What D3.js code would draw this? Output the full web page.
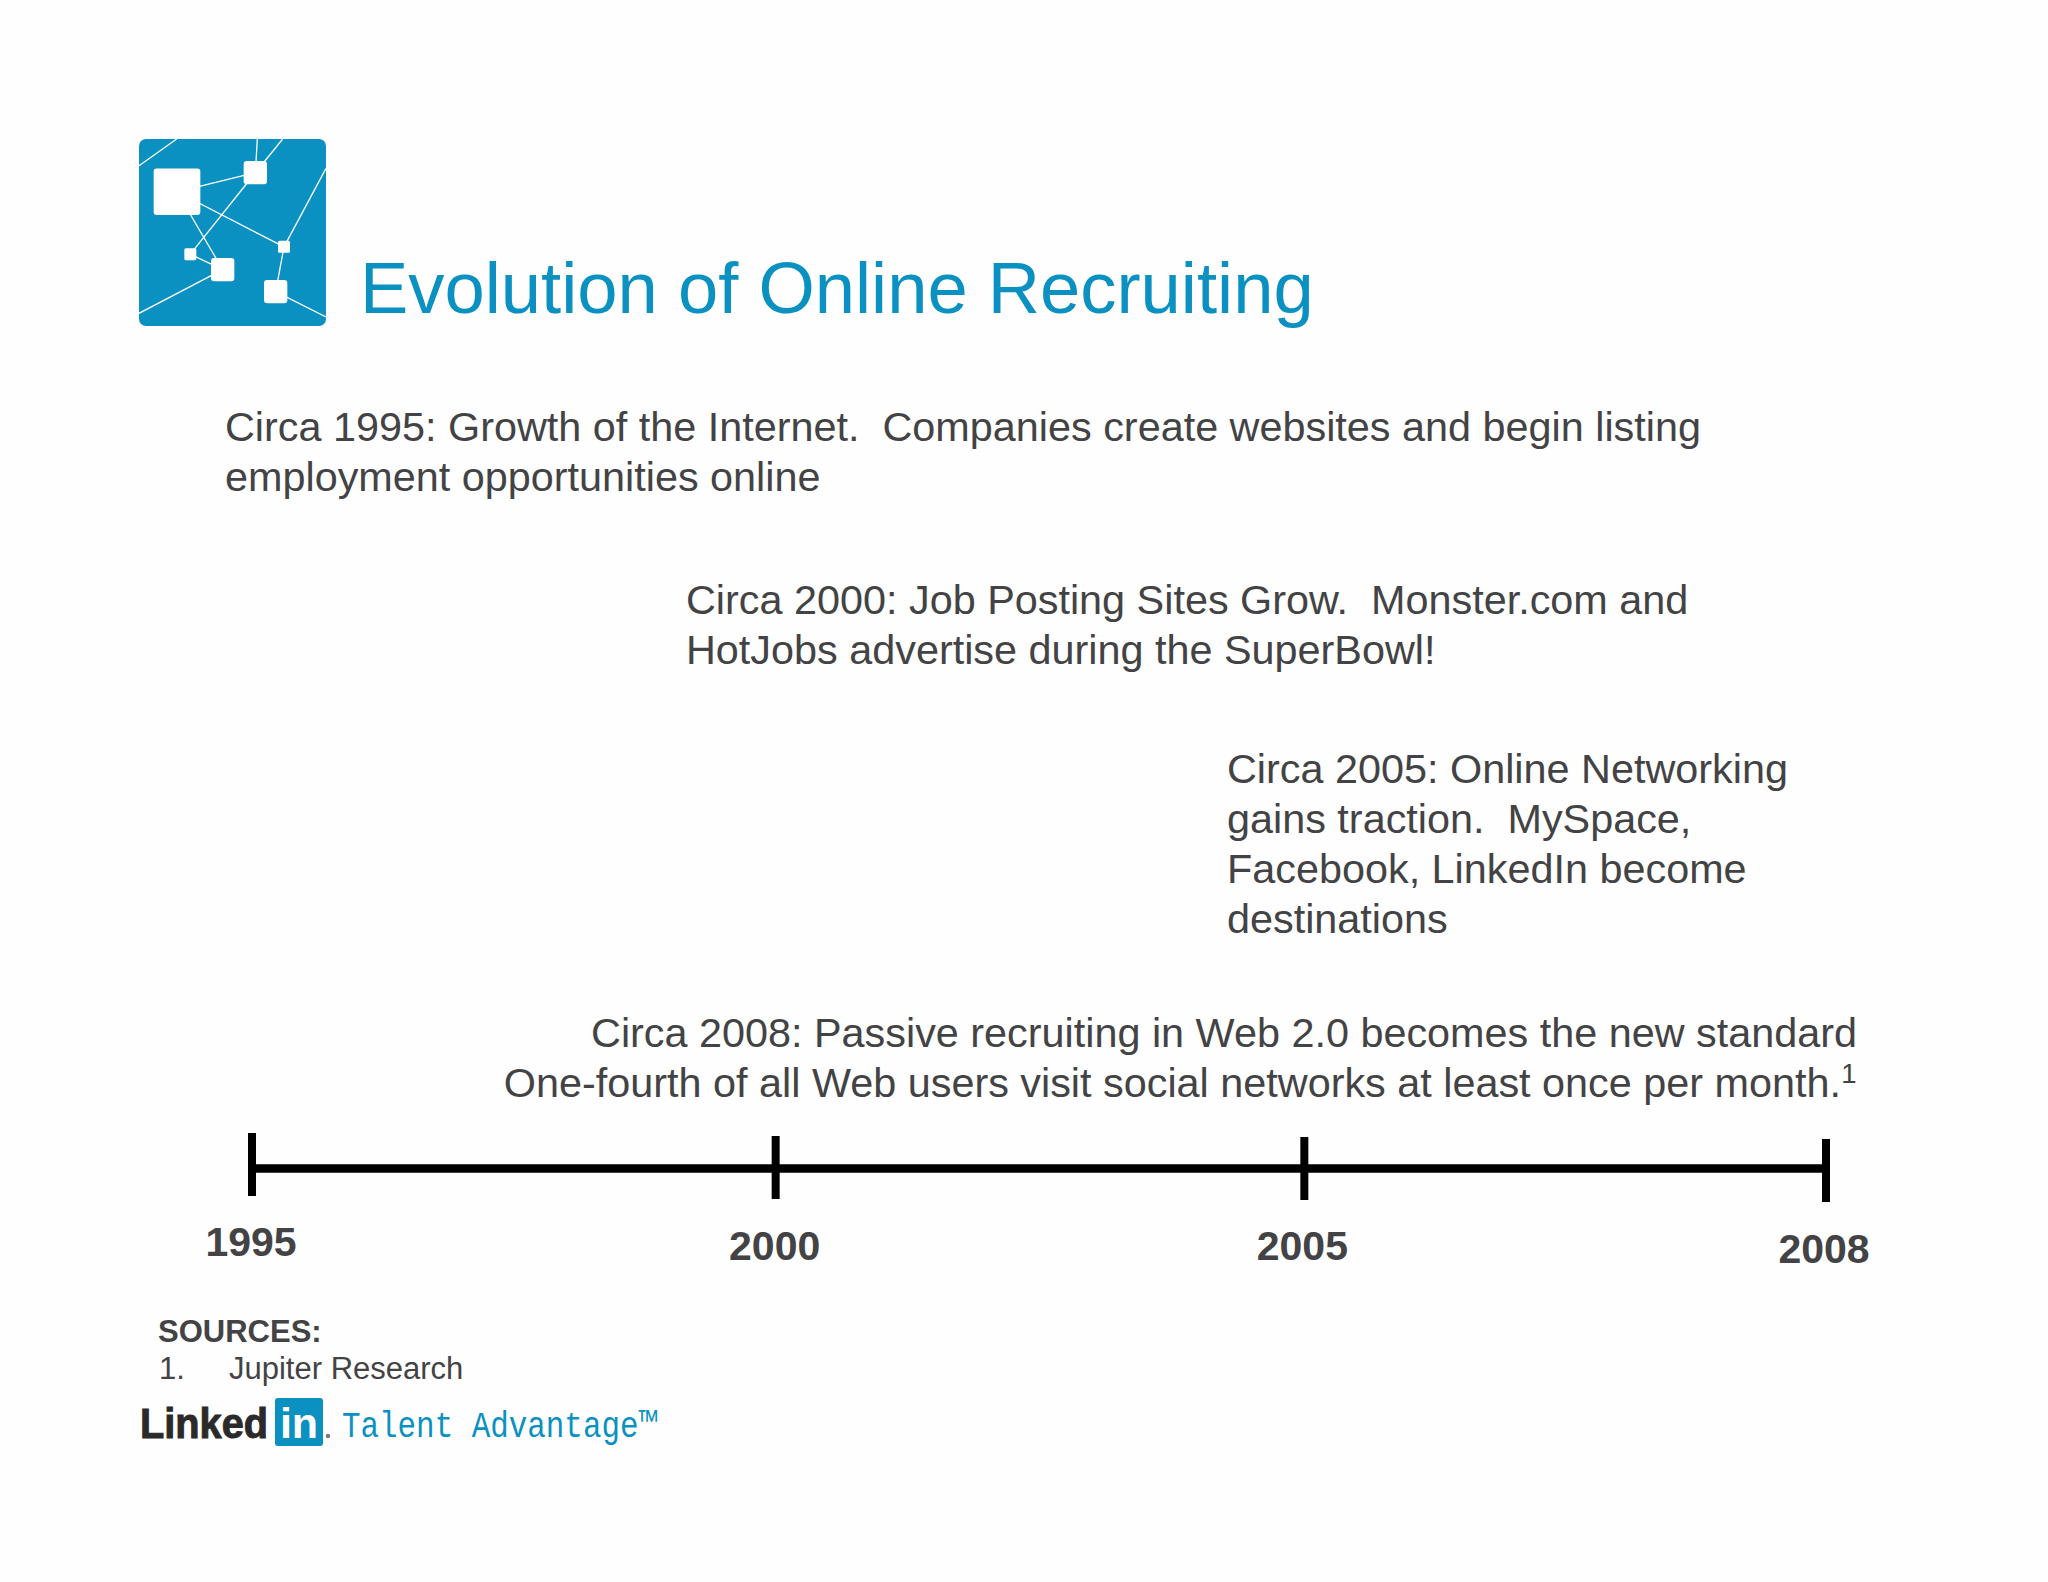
<!DOCTYPE html>
<html>
<head>
<meta charset="utf-8">
<script src="https://cdn.jsdelivr.net/npm/d3@7"></script>
<style>
  html, body { margin: 0; padding: 0; background: #fefefe; }
  text { font-family: "Liberation Sans", Arial, sans-serif; white-space: pre; }
</style>
</head>
<body>
<script>
var years = ["1995", "2000", "2005", "2008"];

var title = "Evolution of Online Recruiting";

var block1995 = ["Circa 1995: Growth of the Internet.  Companies create websites and begin listing",
                 "employment opportunities online"];
var block2000 = ["Circa 2000: Job Posting Sites Grow.  Monster.com and",
                 "HotJobs advertise during the SuperBowl!"];
var block2005 = ["Circa 2005: Online Networking",
                 "gains traction.  MySpace,",
                 "Facebook, LinkedIn become",
                 "destinations"];
var block2008 = ["Circa 2008: Passive recruiting in Web 2.0 becomes the new standard",
                 "One-fourth of all Web users visit social networks at least once per month."];

var sourcesHead = "SOURCES:";
var sourcesList = ["Jupiter Research"];

// logo network, in zoomed logo units
var logoNodes = [[171,215,140], [406,158,70], [211,402,36], [308,448,70], [492,380,36], [467,514,70]];
var logoLinks = [[0,1], [1,2], [0,4], [0,3], [2,3], [4,5]];
var logoStubs = [[57,137,170,57], [412,57,406,158], [488,57,406,158], [308,448,57,579], [618,145,492,380], [467,514,618,590]];

var GREY = "#434345", BLUE = "#0a91c1";

var svg = d3.select("body").append("svg")
  .attr("width", 2048)
  .attr("height", 1582)
  .style("display", "block");

svg.append("rect")
  .attr("width", 2048)
  .attr("height", 1582)
  .attr("fill", "#fefefe");

/////////////////////////////////////////////////
// top logo
var lx = d3.scaleLinear().domain([57,618]).range([139,326]);
var ly = d3.scaleLinear().domain([57,617]).range([139,326]);

svg.append("clipPath").attr("id","logo-clip").append("rect")
  .attr("x",139).attr("y",139).attr("width",187).attr("height",187).attr("rx",7);

svg.append("rect")
  .attr("x",139).attr("y",139).attr("width",187).attr("height",187).attr("rx",7)
  .attr("fill",BLUE);

var logo = svg.append("g").attr("clip-path","url(#logo-clip)");

logoLinks.forEach(function(l) {
  var a = logoNodes[l[0]], b = logoNodes[l[1]];
  logo.append("line")
    .attr("x1",lx(a[0])).attr("y1",ly(a[1]))
    .attr("x2",lx(b[0])).attr("y2",ly(b[1]))
    .attr("stroke","#fff").attr("stroke-width",1.3);
});
logoStubs.forEach(function(l) {
  logo.append("line")
    .attr("x1",lx(l[0])).attr("y1",ly(l[1]))
    .attr("x2",lx(l[2])).attr("y2",ly(l[3]))
    .attr("stroke","#fff").attr("stroke-width",1.3);
});
logo.selectAll("rect.node")
  .data(logoNodes)
  .enter().append("rect")
  .attr("class","node")
  .attr("x",function(d) { return lx(d[0]-d[2]/2); })
  .attr("y",function(d) { return ly(d[1]-d[2]/2); })
  .attr("width",function(d) { return d[2]/3; })
  .attr("height",function(d) { return d[2]/3; })
  .attr("rx",function(d) { return d[2] > 50 ? 3 : 1.5; })
  .attr("fill","#fff");

/////////////////////////////////////////////////
// title
svg.append("text")
  .attr("x",360)
  .attr("y",313)
  .attr("font-size",72.4)
  .attr("fill",BLUE)
  .text(title);

/////////////////////////////////////////////////
// text blocks
function drawBlock(lines, x, y, anchor) {
  var t = svg.append("g").selectAll("text")
    .data(lines)
    .enter().append("text")
    .attr("x",x)
    .attr("y",function(d,i) { return y + i*50; })
    .attr("font-size",41.37)
    .attr("fill",GREY)
    .attr("text-anchor",anchor || "start")
    .text(function(d) { return d; });
  return t;
}
drawBlock(block1995, 225, 441);
drawBlock(block2000, 686, 614);
drawBlock(block2005, 1227, 783);

var last = drawBlock(block2008, 1857, 1047, "end");
last.filter(function(d,i) { return i == 1; })
  .attr("x",1841);
svg.append("text")
  .attr("x",1849)
  .attr("y",1083)
  .attr("font-size",27.5)
  .attr("fill",GREY)
  .attr("text-anchor","middle")
  .text("1");

/////////////////////////////////////////////////
// timeline
var x = d3.scalePoint().domain(years).range([252,1826]);

// the slide's timeline is hand placed, not quite level or even
var tickDx = [0, -1, 3, 0];
var tickDy = [0, 3, 4, 6];
var labelDx = [-1, -1, -2, -2];
var labelDy = [0, 4, 4, 7];

var axis = svg.append("g").attr("transform","translate(0,1168)")
  .call(d3.axisBottom(x).tickSize(0).tickFormat(""));
axis.selectAll(".tick").remove();
axis.select(".domain")
  .attr("stroke","#000")
  .attr("stroke-width",8.5);

svg.selectAll("line.tick-mark")
  .data(years)
  .enter().append("line")
  .attr("class","tick-mark")
  .attr("x1",function(d,i) { return x(d) + tickDx[i]; })
  .attr("x2",function(d,i) { return x(d) + tickDx[i]; })
  .attr("y1",function(d,i) { return 1133 + tickDy[i]; })
  .attr("y2",function(d,i) { return 1196 + tickDy[i]; })
  .attr("stroke","#000")
  .attr("stroke-width",8);

svg.selectAll("text.year")
  .data(years)
  .enter().append("text")
  .attr("class","year")
  .attr("x",function(d,i) { return x(d) + tickDx[i] + labelDx[i]; })
  .attr("y",function(d,i) { return 1256 + labelDy[i]; })
  .attr("text-anchor","middle")
  .attr("font-size",41)
  .attr("font-weight","bold")
  .attr("fill",GREY)
  .text(function(d) { return d; });

/////////////////////////////////////////////////
// sources
svg.append("text")
  .attr("x",158).attr("y",1342)
  .attr("font-size",31).attr("font-weight","bold").attr("fill",GREY)
  .text(sourcesHead);
sourcesList.forEach(function(s,i) {
  svg.append("text")
    .attr("x",159).attr("y",1379 + i*36)
    .attr("font-size",31).attr("fill",GREY)
    .text((i+1) + ".");
  svg.append("text")
    .attr("x",229).attr("y",1379 + i*36)
    .attr("font-size",31).attr("fill",GREY)
    .text(s);
});

/////////////////////////////////////////////////
// bottom logo
svg.append("text")
  .attr("x",140).attr("y",1438)
  .attr("font-size",43).attr("font-weight","bold").attr("fill","#2a2a2a")
  .attr("textLength",128).attr("lengthAdjust","spacingAndGlyphs")
  .style("stroke","#2a2a2a").style("stroke-width",1)
  .text("Linked");
svg.append("rect")
  .attr("x",275).attr("y",1398).attr("width",48).attr("height",48).attr("rx",3)
  .attr("fill",BLUE);
svg.append("text")
  .attr("x",299).attr("y",1438)
  .attr("text-anchor","middle")
  .attr("font-size",43).attr("font-weight","bold").attr("fill","#fff")
  .text("in");
svg.append("circle")
  .attr("cx",328).attr("cy",1436).attr("r",2.2)
  .attr("fill","#777");
svg.append("text")
  .attr("x",342).attr("y",1437)
  .style("font-family","'Liberation Mono', monospace")
  .attr("font-size",37).attr("fill",BLUE)
  .attr("textLength",315).attr("lengthAdjust","spacingAndGlyphs")
  .text("Talent Advantage\u2122");
</script>
</body>
</html>
